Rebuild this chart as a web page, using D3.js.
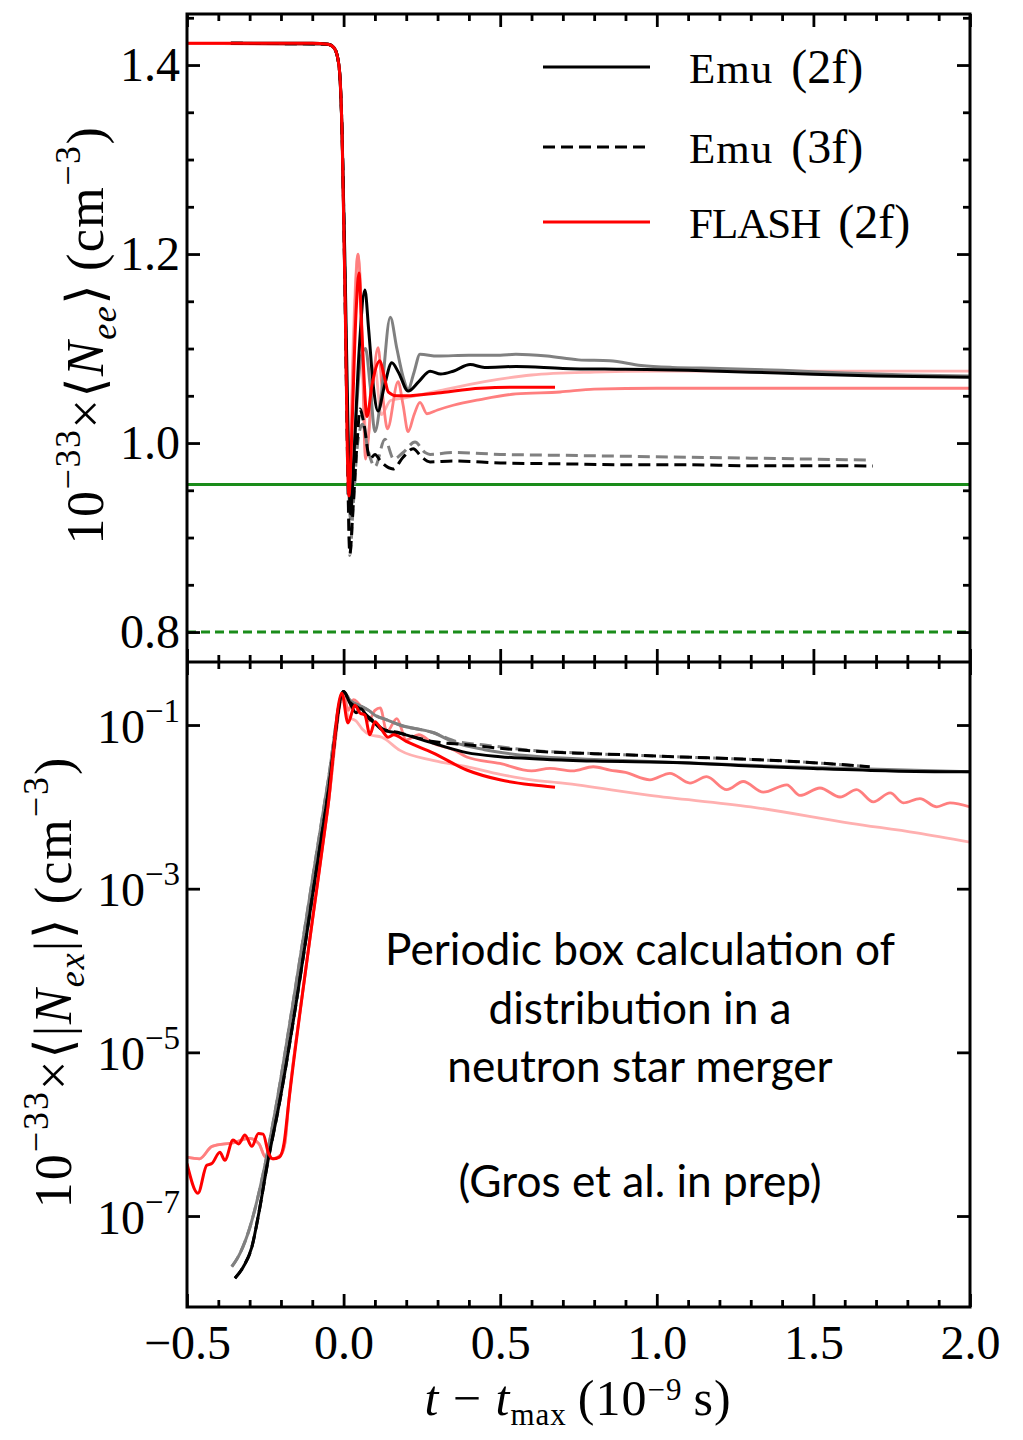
<!DOCTYPE html>
<html>
<head>
<meta charset="utf-8">
<script src="https://cdn.jsdelivr.net/npm/d3@7"></script>
<style>
  body { margin: 0; background: #fff; }
  svg { display: block; }
</style>
</head>
<body>
<svg id="chart" width="1023" height="1440"></svg>
<script>
// ---------- tick values and labels ----------
const xMajorTicks = [-0.5, 0.0, 0.5, 1.0, 1.5, 2.0];
const xTickLabels = ["\u22120.5", "0.0", "0.5", "1.0", "1.5", "2.0"];
const xMinorTicks = [-0.4, -0.3, -0.2, -0.1, 0.1, 0.2, 0.3, 0.4, 0.6, 0.7, 0.8, 0.9,
                     1.1, 1.2, 1.3, 1.4, 1.6, 1.7, 1.8, 1.9];
const neeTicks = [0.8, 1.0, 1.2, 1.4];
const neeTickLabels = ["0.8", "1.0", "1.2", "1.4"];
const neeMinorTicks = [0.85, 0.9, 0.95, 1.05, 1.1, 1.15, 1.25, 1.3, 1.35, 1.45];
const nexTicks = [1e-7, 1e-5, 1e-3, 1e-1];
const nexTickExponents = ["\u22127", "\u22125", "\u22123", "\u22121"];

// ---------- legend ----------
const legendCodes = ["Emu", "Emu", "FLASH"];
const legendTags = ["(2f)", "(3f)", "(2f)"];

// ---------- reference levels in the upper panel ----------
const levelSolid = 0.956;
const levelDashed = 0.80;

// ---------- <N_ee> (upper panel), [t - t_max, value] ----------
const emu2fNee = [[-0.36,1.423],[-0.1,1.423],[-0.05,1.422],[-0.03,1.418],[-0.015,1.40],[-0.005,1.33],
  [0.005,1.18],[0.015,1.0],[0.022,0.925],[0.032,0.98],[0.05,1.10],[0.068,1.162],[0.08,1.12],
  [0.095,1.06],[0.11,1.034],[0.13,1.06],[0.154,1.085],[0.175,1.075],[0.206,1.055],[0.24,1.065],
  [0.276,1.076],[0.31,1.073],[0.35,1.076],[0.404,1.083],[0.45,1.08],[0.55,1.081],[0.7,1.079],
  [0.9,1.078],[1.1,1.077],[1.3,1.075],[1.5,1.0728],[1.7,1.071],[2.0,1.0697]];
const emu2fAltNee = [[-0.36,1.423],[-0.05,1.422],[-0.03,1.418],[-0.015,1.40],[-0.005,1.33],
  [0.005,1.15],[0.015,0.97],[0.022,0.92],[0.035,1.0],[0.055,1.09],[0.07,1.10],[0.085,1.06],
  [0.1,1.012],[0.12,1.05],[0.149,1.133],[0.17,1.10],[0.19,1.07],[0.206,1.057],[0.225,1.075],
  [0.244,1.094],[0.3,1.092],[0.4,1.093],[0.5,1.093],[0.55,1.094],[0.65,1.092],[0.75,1.088],
  [0.85,1.087],[0.95,1.082],[1.05,1.08],[1.2,1.079],[1.4,1.077],[1.6,1.074],[1.8,1.072],[2.0,1.071]];
const emu3fNee = [[-0.36,1.423],[-0.05,1.422],[-0.03,1.418],[-0.015,1.40],[-0.005,1.33],
  [0.005,1.15],[0.013,0.98],[0.02,0.883],[0.03,0.93],[0.045,1.01],[0.052,1.036],[0.065,1.02],
  [0.084,0.983],[0.1,0.988],[0.12,0.98],[0.158,0.9726],[0.19,0.985],[0.222,0.994],[0.25,0.985],
  [0.276,0.98],[0.35,0.981],[0.5,0.979],[0.7,0.978],[0.9,0.977],[1.1,0.977],[1.3,0.976],
  [1.5,0.976],[1.69,0.9757]];
const emu3fAltNee = [[-0.36,1.423],[-0.05,1.422],[-0.03,1.418],[-0.015,1.40],[-0.005,1.33],
  [0.005,1.15],[0.013,0.97],[0.02,0.881],[0.03,0.93],[0.045,1.00],[0.06,1.02],[0.08,0.99],
  [0.1,0.975],[0.132,1.004],[0.16,0.983],[0.19,0.99],[0.228,1.001],[0.26,0.99],[0.276,0.988],
  [0.35,0.99],[0.5,0.988],[0.7,0.987],[0.9,0.986],[1.1,0.985],[1.3,0.984],[1.5,0.983],[1.67,0.982]];
const flashNee = [[-0.5,1.423],[-0.1,1.423],[-0.05,1.422],[-0.03,1.418],[-0.015,1.40],[-0.005,1.33],
  [0.005,1.15],[0.012,0.99],[0.017,0.944],[0.025,1.0],[0.04,1.14],[0.049,1.18],[0.058,1.12],
  [0.075,1.028],[0.09,1.06],[0.116,1.087],[0.13,1.07],[0.143,1.054],[0.17,1.05],[0.2,1.050],
  [0.3,1.053],[0.436,1.058],[0.55,1.059],[0.675,1.059]];
const flashAltNee = [[-0.5,1.423],[-0.05,1.422],[-0.03,1.418],[-0.015,1.40],[-0.005,1.33],
  [0.005,1.15],[0.012,1.0],[0.018,0.95],[0.03,1.08],[0.046,1.2],[0.056,1.15],[0.07,0.983],
  [0.09,1.05],[0.11,1.101],[0.125,1.05],[0.14,1.015],[0.174,1.065],[0.19,1.04],[0.206,1.012],
  [0.225,1.03],[0.244,1.043],[0.266,1.031],[0.3,1.035],[0.35,1.04],[0.436,1.046],[0.55,1.052],
  [0.691,1.054],[0.8,1.057],[1.0,1.058],[1.3,1.058],[1.6,1.058],[2.0,1.058]];
const flashAlt2Nee = [[-0.5,1.423],[-0.05,1.422],[-0.03,1.418],[-0.015,1.40],[-0.005,1.33],
  [0.005,1.15],[0.012,1.0],[0.018,0.95],[0.03,1.1],[0.046,1.2],[0.056,1.12],[0.075,1.0],
  [0.1,1.08],[0.12,1.03],[0.15,1.045],[0.2,1.048],[0.3,1.055],[0.45,1.065],[0.6,1.072],
  [0.8,1.075],[1.0,1.076],[1.5,1.076],[2.0,1.076]];

// ---------- <|N_ex|> (lower panel), [t - t_max, value] ----------
const emu2fNex = [[-0.347,1.74e-8],[-0.32,2.4e-8],[-0.293,4.17e-8],[-0.27,1.12e-7],[-0.245,3.98e-7],
  [-0.203,2.63e-6],[-0.15,4.37e-5],[-0.1,7.9e-4],[-0.05,1.41e-2],[0.0,0.257],[0.02,0.186],
  [0.04,0.141],[0.055,0.158],[0.075,0.126],[0.1,0.105],[0.124,0.087],[0.18,0.079],[0.285,0.060],
  [0.393,0.046],[0.5,0.041],[0.65,0.038],[0.8,0.0363],[1.08,0.0347],[1.3,0.0316],[1.5,0.0295],
  [1.75,0.0275],[2.0,0.0268]];
const emu2fAltNex = [[-0.357,2.4e-8],[-0.33,3.55e-8],[-0.3,7.1e-8],[-0.255,3.55e-7],[-0.213,2.51e-6],
  [-0.16,4.37e-5],[-0.1,1.26e-3],[-0.05,0.02],[0.0,0.257],[0.02,0.2],[0.05,0.174],[0.08,0.151],
  [0.1,0.132],[0.14,0.115],[0.18,0.1],[0.285,0.081],[0.36,0.060],[0.45,0.050],[0.6,0.0417],
  [0.8,0.038],[1.0,0.0355],[1.5,0.0302],[2.0,0.0269]];
const emu3fNex = [[-0.347,1.74e-8],[-0.32,2.4e-8],[-0.293,4.17e-8],[-0.27,1.12e-7],[-0.245,3.98e-7],
  [-0.203,2.63e-6],[-0.15,4.37e-5],[-0.1,7.9e-4],[-0.05,1.41e-2],[0.0,0.257],[0.02,0.19],
  [0.05,0.16],[0.075,0.13],[0.1,0.108],[0.124,0.09],[0.18,0.08],[0.285,0.063],[0.393,0.0575],
  [0.5,0.052],[0.66,0.0468],[0.8,0.0447],[1.08,0.0407],[1.3,0.038],[1.5,0.0347],[1.68,0.0309]];
const emu3fAltNex = [[-0.357,2.4e-8],[-0.33,3.55e-8],[-0.3,7.1e-8],[-0.255,3.55e-7],[-0.213,2.51e-6],
  [-0.16,4.37e-5],[-0.1,1.26e-3],[-0.05,0.02],[0.0,0.257],[0.02,0.2],[0.05,0.174],[0.08,0.151],
  [0.1,0.132],[0.14,0.115],[0.18,0.1],[0.285,0.081],[0.36,0.063],[0.45,0.057],[0.6,0.049],
  [0.8,0.0447],[1.08,0.0407],[1.3,0.038],[1.5,0.0347],[1.67,0.031]];
const flashNex = [[-0.5,4.37e-7],[-0.465,1.9e-7],[-0.437,4.17e-7],[-0.421,4.37e-7],[-0.395,6.0e-7],
  [-0.379,4.8e-7],[-0.353,8.5e-7],[-0.335,7.6e-7],[-0.315,9.8e-7],[-0.293,7.1e-7],[-0.272,1.02e-6],
  [-0.257,1.0e-6],[-0.24,5.9e-7],[-0.226,5.0e-7],[-0.205,5.25e-7],[-0.19,7.8e-7],[-0.175,2.5e-6],
  [-0.134,4.37e-5],[-0.1,4.0e-4],[-0.05,1.0e-2],[-0.006,0.245],[0.014,0.106],[0.036,0.174],
  [0.052,0.141],[0.068,0.132],[0.084,0.076],[0.1,0.110],[0.122,0.087],[0.142,0.071],[0.16,0.076],
  [0.2,0.063],[0.285,0.0457],[0.393,0.0282],[0.499,0.0214],[0.6,0.0186],[0.675,0.0174]];
const flashAltNex = [[-0.5,5.25e-7],[-0.46,5.0e-7],[-0.42,7.1e-7],[-0.35,7.9e-7],[-0.3,8.9e-7],
  [-0.27,7.6e-7],[-0.25,5.25e-7],[-0.225,5.0e-7],[-0.2,5.6e-7],[-0.187,7.9e-7],[-0.175,2.5e-6],
  [-0.134,4.37e-5],[-0.1,4.0e-4],[-0.05,1.0e-2],[0.0,0.24],[0.015,0.151],[0.031,0.204],[0.06,0.158],
  [0.08,0.112],[0.1,0.151],[0.117,0.162],[0.138,0.083],[0.17,0.12],[0.2,0.066],[0.24,0.076],
  [0.285,0.060],[0.35,0.050],[0.393,0.0407],[0.499,0.0339],[0.6,0.0275],[0.659,0.0295],
  [0.73,0.0275],[0.797,0.0309],[0.85,0.0282],[0.9,0.0263],[0.978,0.0214],[1.042,0.0257],
  [1.106,0.0195],[1.159,0.0234],[1.223,0.0162],[1.276,0.0204],[1.34,0.0151],[1.415,0.0186],
  [1.457,0.0138],[1.521,0.0170],[1.585,0.0132],[1.638,0.0162],[1.691,0.0115],[1.745,0.0148],
  [1.787,0.0112],[1.84,0.0126],[1.894,0.0100],[1.936,0.0112],[2.0,0.0100]];
const flashAlt2Nex = [[-0.5,5.25e-7],[-0.46,5.0e-7],[-0.42,7.1e-7],[-0.35,7.9e-7],[-0.3,8.9e-7],
  [-0.27,7.6e-7],[-0.25,5.25e-7],[-0.225,5.0e-7],[-0.2,5.6e-7],[-0.187,7.9e-7],[-0.175,2.5e-6],
  [-0.134,4.37e-5],[-0.1,4.0e-4],[-0.05,1.0e-2],[0.0,0.24],[0.015,0.126],[0.04,0.112],[0.06,0.089],
  [0.084,0.076],[0.122,0.071],[0.18,0.049],[0.285,0.037],[0.393,0.031],[0.5,0.025],[0.6,0.0214],
  [0.7,0.0195],[0.978,0.0138],[1.3,0.0100],[1.62,0.0063],[1.83,0.0048],[2.0,0.0037]];

// ---------- layout ----------
const svg = d3.select("#chart");
const X0 = 187, X1 = 970, YT0 = 14, YMID = 662, YB1 = 1307;
const SERIF = "'Liberation Serif', 'DejaVu Serif', serif";
const TICK_FS = 48;

const x = d3.scaleLinear().domain([-0.5, 2.0]).range([X0, X1]);
const yTop = d3.scaleLinear().domain([0.7683, 1.454]).range([YMID, YT0]);
const yBot = d3.scaleLog().domain([7.73e-9, 0.589]).range([YB1, YMID]);

const defs = svg.append("defs");
defs.append("clipPath").attr("id", "clipTop")
  .append("rect").attr("x", X0).attr("y", YT0).attr("width", X1 - X0).attr("height", YMID - YT0);
defs.append("clipPath").attr("id", "clipBot")
  .append("rect").attr("x", X0).attr("y", YMID).attr("width", X1 - X0).attr("height", YB1 - YMID);

// series styling: drawn back to front
const styles = {
  pale:   { stroke: "#ffb0b0", width: 2.8, dash: null },
  pink:   { stroke: "#ff7f7f", width: 2.8, dash: null },
  gray:   { stroke: "#808080", width: 3, dash: null },
  grayD:  { stroke: "#808080", width: 3, dash: "12,6" },
  black:  { stroke: "#000000", width: 3, dash: null },
  blackD: { stroke: "#000000", width: 3, dash: "12,6" },
  red:    { stroke: "#ff0000", width: 3, dash: null }
};

function drawSeries(g, yScale, list) {
  const line = d3.line()
    .x(d => x(d[0]))
    .y(d => yScale(d[1]))
    .curve(d3.curveMonotoneX);
  list.forEach(([data, key]) => {
    const s = styles[key];
    g.append("path")
      .datum(data)
      .attr("d", line)
      .attr("fill", "none")
      .attr("stroke", s.stroke)
      .attr("stroke-width", s.width)
      .attr("stroke-linejoin", "round")
      .attr("stroke-dasharray", s.dash);
  });
}

// ---------- upper panel ----------
const gTop = svg.append("g").attr("clip-path", "url(#clipTop)");
gTop.append("line")
  .attr("x1", X0).attr("x2", X1).attr("y1", yTop(levelSolid)).attr("y2", yTop(levelSolid))
  .attr("stroke", "#1a8c1a").attr("stroke-width", 3);
gTop.append("line")
  .attr("x1", X0).attr("x2", X1).attr("y1", yTop(levelDashed)).attr("y2", yTop(levelDashed))
  .attr("stroke", "#1a8c1a").attr("stroke-width", 3).attr("stroke-dasharray", "9,5");
drawSeries(gTop, yTop, [
  [flashAlt2Nee, "pale"], [flashAltNee, "pink"],
  [emu3fAltNee, "grayD"], [emu2fAltNee, "gray"],
  [emu3fNee, "blackD"], [emu2fNee, "black"],
  [flashNee, "red"]
]);

// ---------- lower panel ----------
const gBot = svg.append("g").attr("clip-path", "url(#clipBot)");
drawSeries(gBot, yBot, [
  [flashAlt2Nex, "pale"], [flashAltNex, "pink"],
  [emu3fAltNex, "grayD"], [emu2fAltNex, "gray"],
  [emu3fNex, "blackD"], [emu2fNex, "black"],
  [flashNex, "red"]
]);

// ---------- axes (inward ticks on every side) ----------
const MAJ = 13, MIN = 7;
function styleAxis(g) {
  g.select(".domain").remove();
  g.selectAll(".tick line").attr("stroke", "#000").attr("stroke-width", 2.8);
  g.selectAll("text").attr("font-family", SERIF).attr("font-size", TICK_FS).attr("fill", "#000");
  return g;
}
function addAxis(axis, transform) {
  return styleAxis(svg.append("g").attr("transform", transform).call(axis));
}
const noLabel = () => "";

// horizontal edges: top of upper panel, shared edge (both sides), bottom of lower panel
[["top", YT0], ["bottom", YMID], ["top", YMID]].forEach(([side, yy]) => {
  const mk = side === "top" ? d3.axisTop : d3.axisBottom;
  addAxis(mk(x).tickValues(xMajorTicks).tickSize(-MAJ).tickFormat(noLabel), `translate(0,${yy})`);
  addAxis(mk(x).tickValues(xMinorTicks).tickSize(-MIN).tickFormat(noLabel), `translate(0,${yy})`);
});
addAxis(d3.axisBottom(x).tickValues(xMajorTicks).tickSize(-MAJ).tickPadding(18)
  .tickFormat((d, i) => xTickLabels[i]), `translate(0,${YB1})`);
addAxis(d3.axisBottom(x).tickValues(xMinorTicks).tickSize(-MIN).tickFormat(noLabel), `translate(0,${YB1})`);

// upper panel vertical edges
addAxis(d3.axisLeft(yTop).tickValues(neeTicks).tickSize(-MAJ).tickPadding(7)
  .tickFormat((d, i) => neeTickLabels[i]), `translate(${X0},0)`);
addAxis(d3.axisLeft(yTop).tickValues(neeMinorTicks).tickSize(-MIN).tickFormat(noLabel), `translate(${X0},0)`);
addAxis(d3.axisRight(yTop).tickValues(neeTicks).tickSize(-MAJ).tickFormat(noLabel), `translate(${X1},0)`);
addAxis(d3.axisRight(yTop).tickValues(neeMinorTicks).tickSize(-MIN).tickFormat(noLabel), `translate(${X1},0)`);

// lower panel vertical edges (log scale, labels as powers of ten)
const leftLog = addAxis(d3.axisLeft(yBot).tickValues(nexTicks).tickSize(-MAJ).tickPadding(8)
  .tickFormat(noLabel), `translate(${X0},0)`);
leftLog.selectAll(".tick").each(function (d, i) {
  const t = d3.select(this).select("text").text(null)
    .attr("dy", null).attr("y", 17).attr("x", -7).attr("text-anchor", "end");
  t.append("tspan").text("10");
  t.append("tspan").attr("font-size", 33).attr("dy", -21).text(nexTickExponents[i]);
});
addAxis(d3.axisRight(yBot).tickValues(nexTicks).tickSize(-MAJ).tickFormat(noLabel), `translate(${X1},0)`);

// frame
svg.append("rect").attr("x", X0).attr("y", YT0).attr("width", X1 - X0).attr("height", YB1 - YT0)
  .attr("fill", "none").attr("stroke", "#000").attr("stroke-width", 3);
svg.append("line").attr("x1", X0).attr("x2", X1).attr("y1", YMID).attr("y2", YMID)
  .attr("stroke", "#000").attr("stroke-width", 3);

// ---------- axis titles ----------
function mathText(sel, parts, size, supShift = 0.45, subShift = 0.25, scriptScale = 0.7) {
  // parts: [text, {italic, shift}] where shift = 'sup' | 'sub' | undefined
  let cur = 0;
  parts.forEach(([txt, opt]) => {
    opt = opt || {};
    const small = opt.shift ? Math.round(size * scriptScale) : size;
    const target = opt.shift === "sup" ? -supShift * size : opt.shift === "sub" ? subShift * size : 0;
    sel.append("tspan")
      .attr("dy", target - cur)
      .attr("font-size", small)
      .attr("font-style", opt.italic ? "italic" : null)
      .text(txt);
    cur = target;
  });
}

const yLabelTop = svg.append("text")
  .attr("transform", "translate(103,335) rotate(-90)")
  .attr("text-anchor", "middle").attr("font-family", SERIF).attr("font-size", 52)
  .attr("letter-spacing", 1.5);
mathText(yLabelTop, [
  ["10"], ["\u221233", { shift: "sup" }], ["\u00d7\u27e8"], ["N", { italic: true }],
  ["ee", { italic: true, shift: "sub" }], ["\u27e9\u2009(cm"], ["\u22123", { shift: "sup" }], [")"]
], 52);

const yLabelBot = svg.append("text")
  .attr("transform", "translate(71,982) rotate(-90)")
  .attr("text-anchor", "middle").attr("font-family", SERIF).attr("font-size", 52)
  .attr("letter-spacing", 2);
mathText(yLabelBot, [
  ["10"], ["\u221233", { shift: "sup" }], ["\u00d7\u27e8|"], ["N", { italic: true }],
  ["ex", { italic: true, shift: "sub" }], ["|\u27e9\u2009(cm"], ["\u22123", { shift: "sup" }], [")"]
], 52);

const xLabel = svg.append("text")
  .attr("x", 578).attr("y", 1415)
  .attr("text-anchor", "middle").attr("font-family", SERIF).attr("font-size", 50)
  .attr("letter-spacing", 1);
mathText(xLabel, [
  ["t", { italic: true }], [" \u2212 "], ["t", { italic: true }], ["max", { shift: "sub" }],
  ["\u2009(10"], ["\u22129", { shift: "sup" }], ["\u2009s)"]
], 50, 0.3, 0.2, 0.62);

// ---------- legend ----------
const legendRows = [
  { y: 67, style: styles.black },
  { y: 147, style: styles.blackD },
  { y: 222, style: styles.red }
];
legendRows.forEach((r, i) => {
  svg.append("line")
    .attr("x1", 543).attr("x2", 650).attr("y1", r.y).attr("y2", r.y)
    .attr("stroke", r.style.stroke).attr("stroke-width", r.style.width)
    .attr("stroke-dasharray", r.style.dash);
  const t = svg.append("text").attr("x", 689).attr("y", r.y + 16).attr("fill", "#000")
    .attr("font-family", SERIF);
  t.append("tspan").attr("font-size", 43).attr("letter-spacing", i === 2 ? -1 : 1).text(legendCodes[i]);
  t.append("tspan").attr("font-size", 48).attr("dx", 18).attr("letter-spacing", 0).text(legendTags[i]);
});

// ---------- note ----------
const noteLines = ["Periodic box calculation of", "distribution in a", "neutron star merger", "",
                   "(Gros et al. in prep)"];
const noteBaselines = [965, 1024, 1082, 1140, 1197];
const note = svg.append("g").attr("font-family", "Lato, 'Open Sans', sans-serif").attr("fill", "#000");
const probe = note.append("text").attr("font-size", 38).text(noteLines[0]);
const noteSize = 38 * 510 / probe.node().getComputedTextLength();
probe.remove();
noteLines.forEach((s, i) => {
  note.append("text").attr("x", 640).attr("y", noteBaselines[i])
    .attr("text-anchor", "middle").attr("font-size", noteSize).text(s);
});
</script>
</body>
</html>
